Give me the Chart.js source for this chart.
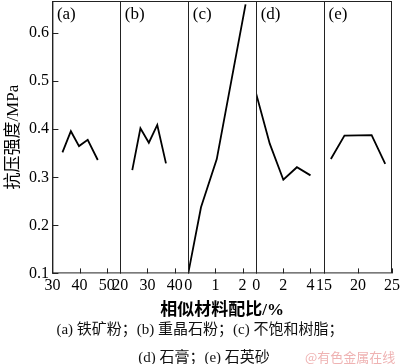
<!DOCTYPE html>
<html>
<head>
<meta charset="utf-8">
<script src="https://cdn.jsdelivr.net/npm/chart.js@4.4.1/dist/chart.umd.min.js"></script>
<style>
  html, body { margin: 0; padding: 0; background: #fff; }
  #wrap { position: relative; width: 400px; height: 364px; overflow: hidden; }
  #chart { position: absolute; left: 0; top: 0; }
  .cap { position: absolute; left: 0; width: 400px; text-align: center; line-height: 18px;
         font-family: "Liberation Serif", "Noto Sans CJK SC"; font-size: 15px; color: #111; }
  .mark { position: absolute; left: 305px; top: 348px; line-height: 18px;
          font-family: "Noto Sans CJK SC"; font-size: 13px; color: #efb3b3; }
</style>
</head>
<body>
<div id="wrap">
  <canvas id="chart" width="400" height="322"></canvas>
  <div class="cap" style="top:320px">(a)&nbsp;铁矿粉；(b)&nbsp;重晶石粉；(c)&nbsp;不饱和树脂；</div>
  <div class="cap" style="top:348px; left:4px">(d)&nbsp;石膏；(e)&nbsp;石英砂</div>
  <div class="mark">@有色金属在线</div>
</div>
<script>
// panel data: x = mix ratio (%), y = compressive strength (MPa)
const panelLabels = ['(a)', '(b)', '(c)', '(d)', '(e)'];
const ironX = [33.7, 36.8, 39.8, 43.0, 46.7];
const ironY = [0.352, 0.396, 0.365, 0.378, 0.336];
const bariteX = [24.4, 27.4, 30.5, 33.6, 36.8];
const bariteY = [0.315, 0.402, 0.372, 0.409, 0.329];
const resinX = [0, 0.47, 1.05, 2.11];
const resinY = [0.1, 0.2375, 0.338, 0.66];
const gypsumX = [0, 1, 2, 3, 4];
const gypsumY = [0.474, 0.37, 0.295, 0.321, 0.304];
const sandX = [16, 18, 22, 24];
const sandY = [0.338, 0.387, 0.388, 0.328];

// axis ranges per panel
const xMin = [30, 20, 0, 0, 15];
const xMax = [55, 45, 2.5, 5, 25];
const xStep = [10, 10, 1, 2, 5];
const yMin = 0.1, yMax = 0.667, yStep = 0.1;

const panelX = [ironX, bariteX, resinX, gypsumX, sandX];
const panelY = [ironY, bariteY, resinY, gypsumY, sandY];
const panelIds = ['x0', 'x1', 'x2', 'x3', 'x4'];

const serif = '"Liberation Serif", "Noto Sans CJK SC"';

// frame, panel dividers, inward tick marks and (a)-(e) labels
const panelFrame = {
  id: 'panelFrame',
  afterDatasetsDraw(chart) {
    const { ctx, chartArea: a, scales } = chart;
    ctx.save();
    ctx.strokeStyle = '#222';
    ctx.lineWidth = 1;
    ctx.strokeRect(a.left + 0.5, a.top + 0.5, a.right - a.left - 1, a.bottom - a.top - 1);
    ctx.beginPath();
    panelIds.forEach(id => {
      const s = scales[id];
      const x = Math.round(s.left) + 0.5;
      ctx.moveTo(x, a.top); ctx.lineTo(x, a.bottom);
      s.ticks.forEach(t => {
        const px = Math.round(s.getPixelForValue(t.value)) + 0.5;
        ctx.moveTo(px, a.bottom); ctx.lineTo(px, a.bottom - 5);
      });
    });
    scales.y.ticks.forEach(t => {
      const py = Math.round(scales.y.getPixelForValue(t.value)) + 0.5;
      ctx.moveTo(a.left, py); ctx.lineTo(a.left + 6, py);
    });
    ctx.stroke();
    ctx.fillStyle = '#000';
    ctx.font = '17px ' + serif;
    ctx.textBaseline = 'middle';
    panelIds.forEach((id, i) => ctx.fillText(panelLabels[i], scales[id].left + 4.5, a.top + 14));
    ctx.restore();
  }
};

const scales = {
  y: {
    type: 'linear',
    position: 'left',
    min: yMin,
    max: yMax,
    grid: { display: false, drawTicks: false },
    border: { display: false },
    ticks: {
      stepSize: yStep,
      includeBounds: false,
      padding: 3.5,
      color: '#000',
      font: { family: serif, size: 16 },
      callback: v => v.toFixed(1)
    },
    title: {
      display: true,
      text: '抗压强度/MPa',
      color: '#000',
      padding: { top: 0, bottom: 2 },
      font: { family: serif, size: 17 }
    },
    // no label overhang above the plot: the frame starts at the top edge
    afterFit: s => { s.paddingTop = 0; s.paddingBottom = 0; }
  }
};

panelIds.forEach((id, i) => {
  scales[id] = {
    type: 'linear',
    position: 'bottom',
    stack: 'panels',
    stackWeight: 1,
    min: xMin[i],
    max: xMax[i],
    grid: { display: false, drawTicks: false },
    border: { display: false },
    ticks: {
      stepSize: xStep[i],
      includeBounds: false,
      autoSkip: false,
      maxRotation: 0,
      padding: 3,
      color: '#000',
      font: { family: serif, size: 16 }
    },
    // only the last label ("25") may hang over the right edge
    afterFit: s => { s.paddingLeft = 0; s.paddingRight = i === 4 ? 8 : 0; }
  };
});

new Chart(document.getElementById('chart'), {
  type: 'line',
  data: {
    datasets: panelIds.map((id, i) => ({
      label: panelLabels[i],
      data: panelX[i].map((x, k) => ({ x: x, y: panelY[i][k] })),
      xAxisID: id,
      yAxisID: 'y',
      borderColor: '#000',
      borderWidth: 1.8,
      pointRadius: 0,
      tension: 0,
      fill: false
    }))
  },
  options: {
    responsive: false,
    animation: false,
    layout: { padding: { left: 3, right: 0, top: 1, bottom: 1 } },
    plugins: {
      legend: { display: false },
      tooltip: { enabled: false },
      title: {
        display: true,
        position: 'bottom',
        fullSize: false,
        text: '相似材料配比/%',
        color: '#000',
        padding: { top: 2, bottom: 0 },
        font: { family: serif, size: 17, weight: 'bold' }
      }
    },
    scales: scales
  },
  plugins: [panelFrame]
});
</script>
</body>
</html>
